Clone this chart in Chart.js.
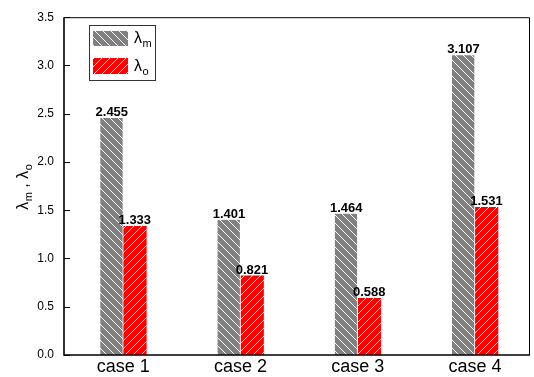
<!DOCTYPE html>
<html>
<head>
<meta charset="utf-8">
<script src="https://cdn.jsdelivr.net/npm/chart.js@4"></script>
<style>
  html, body { margin: 0; padding: 0; background: #ffffff; }
  #wrap { width: 534px; height: 377px; }
</style>
</head>
<body>
<div id="wrap"><canvas id="chart" width="534" height="377"></canvas></div>
<script>
// Categories and series values
const categories = ['case 1', 'case 2', 'case 3', 'case 4'];
const lambdaM = [2.455, 1.401, 1.464, 3.107];
const lambdaO = [1.333, 0.821, 0.588, 1.531];
const yTickValues = [0, 0.5, 1.0, 1.5, 2.0, 2.5, 3.0, 3.5];

const FONT = '"Liberation Sans", Arial, Helvetica, sans-serif';

// Hatched fill: coloured tile with thin white diagonals
function hatch(bg, dir) {
  const s = 8;
  const c = document.createElement('canvas');
  c.width = s; c.height = s;
  const g = c.getContext('2d');
  g.fillStyle = bg;
  g.fillRect(0, 0, s, s);
  g.strokeStyle = 'rgba(255,255,255,0.95)';
  g.lineWidth = 1;
  g.beginPath();
  for (let k = -1; k <= 2; k++) {
    if (dir === 'back') {          // "\" lines
      g.moveTo(-1, k * s - 1);
      g.lineTo(s + 1, k * s + s + 1);
    } else {                       // "/" lines
      g.moveTo(-1, k * s + 1);
      g.lineTo(s + 1, k * s - s - 1);
    }
  }
  g.stroke();
  return g.createPattern(c, 'repeat');
}

const ctx0 = document.getElementById('chart').getContext('2d');
const grayFill = hatch('#808080', 'back');
const redFill = hatch('#ff0000', 'fwd');

// Frame around the plot and inward ticks on the left axis
const framePlugin = {
  id: 'frame',
  afterDraw(chart) {
    const { ctx, chartArea: a, scales } = chart;
    ctx.save();
    ctx.strokeStyle = '#000';
    ctx.lineWidth = 1;
    ctx.beginPath();
    ctx.moveTo(a.left, a.top + 0.5);
    ctx.lineTo(a.right + 0.5, a.top + 0.5);
    ctx.lineTo(a.right + 0.5, a.bottom);
    ctx.stroke();
    ctx.lineWidth = 1.6;
    ctx.beginPath();
    ctx.moveTo(a.left, a.top);
    ctx.lineTo(a.left, a.bottom);
    ctx.lineTo(a.right + 1, a.bottom);
    ctx.stroke();
    ctx.lineWidth = 1.2;
    ctx.beginPath();
    for (const v of yTickValues) {
      const y = Math.round(scales.y.getPixelForValue(v)) + 0.5;
      ctx.moveTo(a.left, y);
      ctx.lineTo(a.left + 6, y);
    }
    ctx.stroke();
    ctx.restore();
  }
};

// Value labels above each bar
const valueLabels = {
  id: 'valueLabels',
  afterDatasetsDraw(chart) {
    const { ctx } = chart;
    ctx.save();
    ctx.font = 'bold 13px ' + FONT;
    ctx.fillStyle = '#000';
    ctx.textAlign = 'center';
    ctx.textBaseline = 'alphabetic';
    chart.data.datasets.forEach((ds, di) => {
      chart.getDatasetMeta(di).data.forEach((bar, i) => {
        ctx.fillText(ds.data[i].y.toFixed(3), bar.x, bar.y - 2);
      });
    });
    ctx.restore();
  }
};

// Draw λ with a subscript, left-aligned at (x, y) baseline
function lambdaSub(ctx, x, y, sub) {
  ctx.font = '16px ' + FONT;
  ctx.fillText('\u03bb', x, y);
  const w = ctx.measureText('\u03bb').width;
  ctx.font = '11px ' + FONT;
  ctx.fillText(sub, x + w + 0.5, y + 4);
  return w + 0.5 + ctx.measureText(sub).width;
}

// Legend box with hatched swatches
const legendBox = {
  id: 'legendBox',
  afterDraw(chart) {
    const { ctx } = chart;
    ctx.save();
    ctx.strokeStyle = '#333';
    ctx.lineWidth = 1;
    ctx.strokeRect(89.5, 25.5, 66, 55);
    ctx.fillStyle = grayFill;
    ctx.fillRect(93, 31, 35, 15);
    ctx.fillStyle = redFill;
    ctx.fillRect(93, 58, 35, 16);
    ctx.fillStyle = '#000';
    ctx.textBaseline = 'alphabetic';
    ctx.textAlign = 'left';
    lambdaSub(ctx, 134, 43, 'm');
    lambdaSub(ctx, 134, 71, 'o');
    ctx.restore();
  }
};

// Rotated y-axis title: λm , λo
const yTitle = {
  id: 'yTitle',
  afterDraw(chart) {
    const { ctx } = chart;
    ctx.save();
    ctx.translate(28, 187);
    ctx.rotate(-Math.PI / 2);
    ctx.fillStyle = '#000';
    ctx.textAlign = 'left';
    ctx.textBaseline = 'alphabetic';
    ctx.font = '16px ' + FONT;
    const wl = ctx.measureText('\u03bb').width;
    const wc = ctx.measureText(' , ').width;
    ctx.font = '11px ' + FONT;
    const wm = ctx.measureText('m').width;
    const wo = ctx.measureText('o').width;
    const total = wl * 2 + wm + wo + wc + 1;
    let x = -total / 2;
    x += lambdaSub(ctx, x, 0, 'm');
    ctx.font = '16px ' + FONT;
    ctx.fillText(' , ', x, 0);
    x += wc;
    lambdaSub(ctx, x, 0, 'o');
    ctx.restore();
  }
};

const barGap = { top: 0, left: 0, bottom: 0, right: 1 };

new Chart(ctx0, {
  type: 'bar',
  data: {
    datasets: [
      {
        label: '\u03bbm',
        data: lambdaM.map((v, i) => ({ x: i + 1, y: v })),
        backgroundColor: grayFill,
        borderColor: '#ffffff',
        borderWidth: barGap,
        borderSkipped: false,
        barThickness: 23
      },
      {
        label: '\u03bbo',
        data: lambdaO.map((v, i) => ({ x: i + 1, y: v })),
        backgroundColor: redFill,
        borderWidth: 0,
        barThickness: 23
      }
    ]
  },
  options: {
    responsive: false,
    animation: false,
    layout: { padding: { top: 15, right: 5, left: 0, bottom: 0 } },
    plugins: {
      legend: { display: false },
      tooltip: { enabled: false }
    },
    scales: {
      x: {
        type: 'linear',
        offset: false,
        min: 0.494,
        max: 4.461,
        grid: { display: false, drawTicks: false, offset: false },
        border: { display: false },
        afterBuildTicks(scale) {
          scale.ticks = categories.map((c, i) => ({ value: i + 1 }));
        },
        afterFit(scale) { scale.height = 22; },
        ticks: {
          autoSkip: false,
          maxRotation: 0,
          padding: 1,
          color: '#000',
          font: { family: FONT, size: 18 },
          callback: (v) => categories[Math.round(v) - 1]
        }
      },
      y: {
        min: 0,
        max: 3.5,
        grid: { display: false, drawTicks: false },
        border: { display: false },
        afterBuildTicks(scale) {
          scale.ticks = yTickValues.map((v) => ({ value: v }));
        },
        afterFit(scale) { scale.width = 64; },
        ticks: {
          padding: 10,
          color: '#000',
          font: { family: FONT, size: 12 },
          callback: (v) => Number(v).toFixed(1)
        }
      }
    }
  },
  plugins: [framePlugin, valueLabels, legendBox, yTitle]
});
</script>
</body>
</html>
